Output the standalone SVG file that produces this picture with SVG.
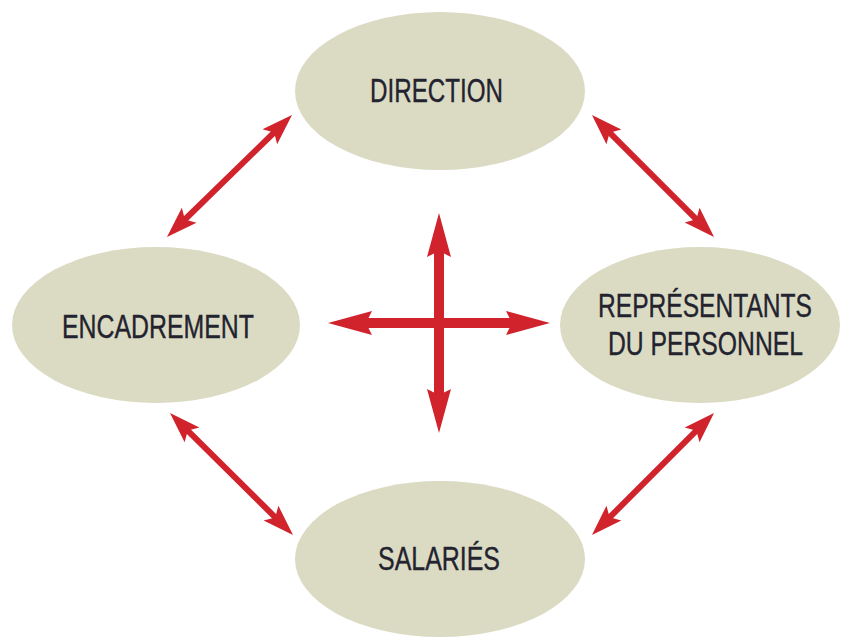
<svg xmlns="http://www.w3.org/2000/svg" width="841" height="637" viewBox="0 0 841 637">
<style>
.node{fill:#dbdbc4;}
.lbl{font-family:"Liberation Sans",Arial,sans-serif;font-size:34px;fill:#23232f;stroke:#23232f;stroke-width:0.4;text-anchor:middle;}
.arr{stroke:#d1232c;fill:none;}
.thin{stroke-width:6;}
.thick{stroke-width:10;}
</style>
<defs>
<marker id="hs" markerUnits="userSpaceOnUse" viewBox="-15 -15 40 30" refX="0" refY="0" markerWidth="40" markerHeight="30" orient="auto-start-reverse" style="overflow:visible">
<path d="M20,0 L-11,-10.5 L-5,0 L-11,10.5 Z" fill="#d1232c"/>
</marker>
<marker id="hl" markerUnits="userSpaceOnUse" viewBox="-20 -15 55 30" refX="0" refY="0" markerWidth="55" markerHeight="30" orient="auto-start-reverse" style="overflow:visible">
<path d="M30,0 L-14,-12 L-8,0 L-14,12 Z" fill="#d1232c"/>
</marker>
</defs>
<g id="connectors">
<line class="arr thin" x1="181.3" y1="223" x2="277.7" y2="129" marker-start="url(#hs)" marker-end="url(#hs)"/>
<line class="arr thin" x1="606.1" y1="129.1" x2="699.9" y2="222.9" marker-start="url(#hs)" marker-end="url(#hs)"/>
<line class="arr thin" x1="184.2" y1="427.1" x2="278.8" y2="520.9" marker-start="url(#hs)" marker-end="url(#hs)"/>
<line class="arr thin" x1="699.9" y1="427.1" x2="606.1" y2="520.9" marker-start="url(#hs)" marker-end="url(#hs)"/>
<line class="arr thick" x1="439" y1="243" x2="439" y2="403" marker-start="url(#hl)" marker-end="url(#hl)"/>
<line class="arr thick" x1="358" y1="323" x2="520" y2="323" marker-start="url(#hl)" marker-end="url(#hl)"/>
</g>
<g id="direction">
<ellipse class="node" cx="440" cy="91" rx="145" ry="79"/>
<text class="lbl" transform="translate(436.5,102) scale(0.7,1)" x="0" y="0" textLength="190" lengthAdjust="spacingAndGlyphs">DIRECTION</text>
</g>
<g id="encadrement">
<ellipse class="node" cx="156" cy="325" rx="144" ry="78"/>
<text class="lbl" transform="translate(158,338) scale(0.7,1)" x="0" y="0" textLength="274.3" lengthAdjust="spacingAndGlyphs">ENCADREMENT</text>
</g>
<g id="representants">
<ellipse class="node" cx="700" cy="325" rx="140" ry="78"/>
<text class="lbl" transform="translate(705,317) scale(0.7,1)" x="0" y="0" textLength="305.7" lengthAdjust="spacingAndGlyphs">REPRÉSENTANTS</text>
<text class="lbl" transform="translate(705.5,355) scale(0.7,1)" x="0" y="0" textLength="278.6" lengthAdjust="spacingAndGlyphs">DU PERSONNEL</text>
</g>
<g id="salaries">
<ellipse class="node" cx="440" cy="559" rx="145" ry="78"/>
<text class="lbl" transform="translate(439,570) scale(0.7,1)" x="0" y="0" textLength="174.3" lengthAdjust="spacingAndGlyphs">SALARIÉS</text>
</g>
</svg>
